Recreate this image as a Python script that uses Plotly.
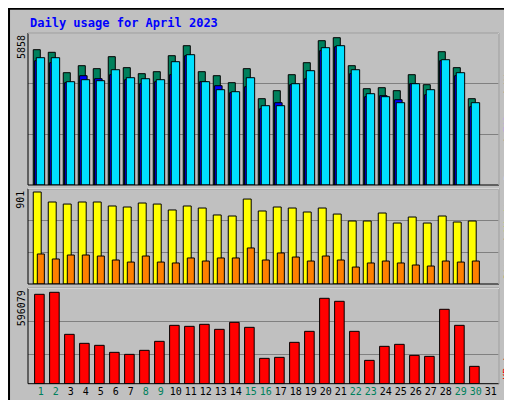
import plotly.graph_objects as go

days = list(range(1, 31))
day_labels = [str(d) for d in range(1, 32)]
weekend_days = [1, 2, 8, 9, 15, 16, 22, 23, 29, 30]

hits = [5381, 5277, 4466, 4745, 4626, 5103, 4666, 4427, 4506, 5142, 5540, 4506, 4347, 4069, 4626,
        3432, 3751, 4387, 4864, 5739, 5858, 4745, 3830, 3870, 3751, 4387, 3989, 5301, 4666, 3432]
files = [5063, 5063, 4108, 4188, 4148, 4585, 4267, 4227, 4188, 4904, 5182, 4108, 3790, 3711, 4267,
         3154, 3154, 4029, 4546, 5461, 5540, 4585, 3631, 3512, 3273, 4029, 3790, 4983, 4466, 3273]
pages = [4943, 4864, 4069, 4347, 4227, 4387, 4188, 4029, 4108, 4387, 5142, 4108, 3949, 3671, 3909,
         3034, 3273, 3989, 4227, 5341, 5500, 4426, 3512, 3552, 3392, 4029, 3591, 4943, 4347, 3114]
visits = [901, 803, 783, 803, 803, 764, 754, 793, 783, 725, 764, 744, 676, 666, 832,
          715, 754, 744, 705, 744, 685, 617, 617, 695, 597, 656, 597, 666, 607, 617]
sites = [294, 245, 284, 284, 274, 235, 215, 274, 215, 206, 255, 225, 255, 255, 353,
         235, 304, 264, 225, 274, 235, 166, 206, 225, 206, 186, 176, 225, 215, 225]
kbytes = [583034, 596079, 321974, 263236, 250183, 204497, 191444, 217550, 276289, 380713,
          374186, 387239, 354607, 400292, 367660, 165338, 171865, 269762, 341554, 556928,
          537349, 341554, 152285, 243656, 256709, 184918, 178391, 485137, 380713, 113126]

line = dict(color="black", width=1)
fig = go.Figure()

def bar(y, color, offset, width, axis):
    fig.add_trace(go.Bar(x=days, y=y, marker=dict(color=color, line=line),
                         offset=offset, width=width, xaxis="x", yaxis=axis,
                         hoverinfo="y"))

bar(hits, "#00805C", 0.0, 0.47, "y")
bar(pages, "#0000FF", 0.09, 0.5, "y")
bar(files, "#00E0FF", 0.2, 0.56, "y")
bar(visits, "#FFFF00", 0.0, 0.53, "y2")
bar(sites, "#FF8000", 0.27, 0.47, "y2")
bar(kbytes, "#FF0000", 0.09, 0.64, "y3")

xd = [20 / 512, 491 / 512]
doms = [(25, 177), (180.7, 276), (280.3, 375.7)]
tops = [max(hits) * 152 / 147.3, max(visits) * 95.3 / 92, max(kbytes) * 286 / 274]
maxes = [max(hits), max(visits), max(kbytes)]

def ydom(t, b):
    return [1 - b / 400, 1 - t / 400]

ax = dict(showgrid=True, gridcolor="#808080", gridwidth=1, zeroline=False, automargin=False,
          showticklabels=False, ticks="", fixedrange=True)
fig.update_layout(
    width=512, height=400, margin=dict(l=0, r=0, t=0, b=0, autoexpand=False),
    paper_bgcolor="#C0C0C0", plot_bgcolor="#C0C0C0", showlegend=False, barmode="overlay",
    xaxis=dict(domain=xd, range=[0.65, 32.05], showgrid=False, zeroline=False, automargin=False,
               tickvals=[d + 0.5 for d in range(1, 32)], tickangle=0,
               ticktext=[f"<span style='color:{'#00805C' if int(l) in weekend_days else 'black'}'>{l}</span>"
                         for l in day_labels],
               ticks="", ticklen=0, tickfont=dict(family="DejaVu Sans Mono", size=10), anchor="y3"),
    yaxis=dict(ax, domain=ydom(*doms[0]), range=[0, tops[0]], tickvals=[tops[0] / 3, 2 * tops[0] / 3]),
    yaxis2=dict(ax, domain=ydom(*doms[1]), range=[0, tops[1]], tickvals=[tops[1] / 3, 2 * tops[1] / 3]),
    yaxis3=dict(ax, domain=ydom(*doms[2]), range=[0, tops[2]], tickvals=[tops[2] * 88 / 286, tops[2] * 187 / 286]),
    font=dict(family="DejaVu Sans Mono", color="black"),
)

shapes = [
    dict(type="rect", xref="paper", yref="paper", x0=0.002, x1=0.998, y0=0.002, y1=0.998,
         line=dict(color="black", width=2)),
    dict(type="line", xref="paper", yref="paper", x0=507 / 512, x1=507 / 512, y0=6 / 400, y1=394 / 400,
         line=dict(color="#808080", width=4)),
    dict(type="line", xref="paper", yref="paper", x0=6 / 512, x1=509 / 512, y0=5 / 400, y1=5 / 400,
         line=dict(color="#808080", width=4)),
]
for t, b in doms:
    y0, y1 = ydom(t, b)
    shapes.append(dict(type="rect", xref="paper", yref="paper", x0=xd[0], x1=xd[1], y0=y0, y1=y1,
                       line=dict(color="black", width=1)))
    shapes.append(dict(type="line", xref="paper", yref="paper", x0=xd[0], x1=xd[1], y0=y1, y1=y1,
                       line=dict(color="white", width=1)))
    shapes.append(dict(type="line", xref="paper", yref="paper", x0=xd[1], x1=xd[1], y0=y0, y1=y1,
                       line=dict(color="white", width=1)))
fig.update_layout(shapes=shapes)

anns = [dict(text="<b>Daily usage for April 2023</b>", x=20 / 512, y=1 - 15 / 400, xref="paper", yref="paper",
             xanchor="left", yanchor="middle", showarrow=False,
             font=dict(family="DejaVu Sans Mono", size=12, color="#0000FF"))]
right = ["<span style='color:#00E0FF'>Pages</span> / <span style='color:#0000FF'>Files</span> / "
         "<span style='color:#00805C'>Hits</span>",
         "<span style='color:#FF8000'>Sites</span> / <span style='color:#FFFF00'>Visits</span>",
         "<span style='color:#FF0000'>KBytes</span>"]
for (t, b), txt, m in zip(doms, right, maxes):
    y0, y1 = ydom(t, b)
    anns.append(dict(text=txt, x=500 / 512, y=y0 + 0.005, xref="paper", yref="paper", textangle=-90,
                     xanchor="center", yanchor="bottom", showarrow=False,
                     font=dict(family="DejaVu Sans Mono", size=10)))
    anns.append(dict(text=str(m), x=13 / 512, y=y1, xref="paper", yref="paper", textangle=-90,
                     xanchor="center", yanchor="top", showarrow=False,
                     font=dict(family="DejaVu Sans Mono", size=10, color="black")))
fig.update_layout(annotations=anns)

fig.write_html("out.html")
